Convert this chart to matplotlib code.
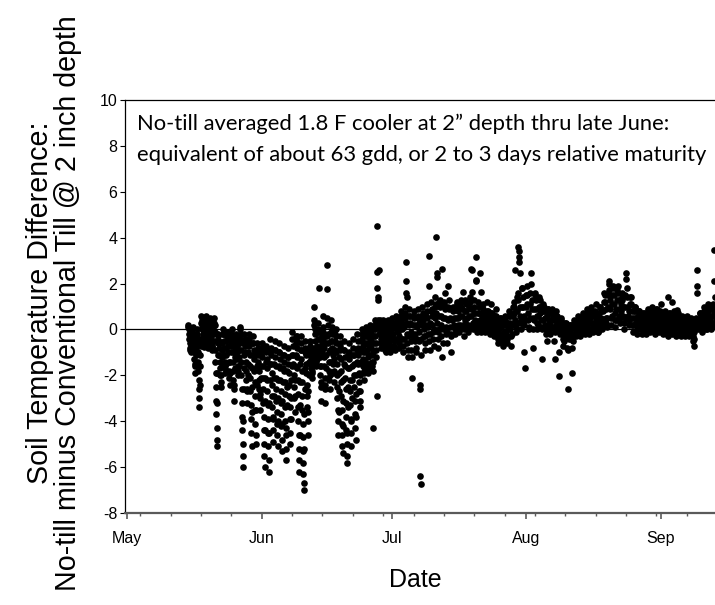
import datetime as dt
import matplotlib
matplotlib.use('Agg')
import matplotlib.pyplot as plt
import matplotlib.dates as mdates

plt.rcParams['font.family'] = ['Liberation Sans', 'DejaVu Sans']
plt.rcParams['axes.unicode_minus'] = False

# Temperature difference readings (F), one list per day, readings spread through the day
may_start = dt.date(2014, 5, 15)
may_vals = [
    [0.1, 0.2, 0.0, -0.2, -0.4, -0.6, -0.8, -0.9, -1.0, -0.8, -0.6, -0.4, -0.2, 0.0],
    [-0.1, 0.1, -0.2, -0.4, -0.7, -1.0, -1.3, -1.6, -1.9, -1.5, -1.1, -0.8, -0.5, -0.3],
    [-0.2, 0.0, -0.3, -0.6, -1.0, -1.4, -1.8, -2.2, -2.6, -3.0, -3.4, -2.4, -1.6, -1.1, -0.7, -0.4],
    [0.3, 0.6, 0.4, 0.2, 0.0, -0.2, -0.4, -0.6, -0.75, -0.5, -0.3, -0.1, 0.1, 0.4],
    [0.4, 0.6, 0.3, 0.1, -0.1, -0.3, -0.5, -0.7, -0.8, -0.6, -0.4, -0.2, 0.1, 0.3],
    [0.5, 0.3, 0.1, -0.1, -0.3, -0.5, -0.7, -0.9, -0.7, -0.5, -0.2, 0.0, 0.2],
    [0.3, 0.5, 0.2, -0.1, -0.5, -0.9, -1.4, -1.9, -2.5, -3.1, -3.7, -4.3, -4.8, -5.1, -3.2, -1.9, -1.1, -0.6, -0.2],
    [-0.3, -0.5, -0.8, -1.1, -1.4, -1.7, -2.0, -2.3, -2.5, -2.0, -1.6, -1.2, -0.9, -0.6],
    [-0.2, 0.0, -0.2, -0.5, -0.8, -1.1, -1.4, -1.7, -1.9, -1.5, -1.1, -0.8, -0.5, -0.3],
    [-0.3, -0.1, -0.4, -0.7, -1.0, -1.4, -1.8, -2.1, -2.4, -1.9, -1.4, -1.0, -0.7, -0.5],
    [-0.2, 0.0, -0.3, -0.6, -1.0, -1.4, -1.8, -2.2, -2.6, -3.1, -2.4, -1.7, -1.2, -0.8, -0.5],
    [-0.3, -0.2, -0.4, -0.7, -1.0, -1.3, -1.6, -1.8, -2.0, -1.6, -1.2, -0.9, -0.6, -0.4],
    [0.0, 0.1, -0.2, -0.5, -0.9, -1.4, -2.0, -2.6, -3.2, -3.8, -4.4, -5.0, -5.5, -6.0, -4.0, -2.6, -1.7, -1.1, -0.6],
    [-0.2, -0.4, -0.7, -1.0, -1.4, -1.8, -2.2, -2.7, -3.2, -2.6, -2.0, -1.5, -1.0, -0.6],
    [-0.2, -0.4, -0.7, -1.1, -1.6, -2.1, -2.7, -3.3, -3.9, -4.5, -5.1, -3.6, -2.5, -1.7, -1.1, -0.6],
    [-0.3, -0.6, -0.9, -1.3, -1.8, -2.3, -2.9, -3.5, -4.1, -4.6, -5.0, -3.5, -2.4, -1.6, -1.0],
    [-0.6, -0.8, -1.1, -1.4, -1.8, -2.2, -2.6, -3.0, -3.5, -2.8, -2.1, -1.6, -1.1, -0.8],
]

jun_start = dt.date(2014, 6, 1)
jun_vals = [
    [-0.6, -0.9, -1.2, -1.6, -2.1, -2.6, -3.2, -3.8, -4.4, -5.0, -5.5, -6.0, -4.4, -3.1, -2.1, -1.4, -0.9],
    [-0.7, -1.0, -1.3, -1.7, -2.2, -2.7, -3.3, -3.9, -4.5, -5.1, -5.7, -6.2, -4.5, -3.2, -2.2, -1.5, -1.0],
    [-0.4, -0.8, -1.1, -1.5, -1.9, -2.4, -2.9, -3.4, -3.9, -4.4, -4.9, -3.8, -2.9, -2.1, -1.5, -0.9],
    [-0.5, -0.9, -1.2, -1.6, -2.1, -2.6, -3.1, -3.6, -4.1, -4.6, -5.1, -4.0, -3.0, -2.2, -1.6, -1.0],
    [-0.6, -1.0, -1.3, -1.7, -2.2, -2.7, -3.2, -3.7, -4.2, -4.8, -5.3, -4.1, -3.1, -2.3, -1.7, -1.1],
    [-0.7, -1.1, -1.4, -1.8, -2.3, -2.8, -3.4, -4.0, -4.6, -5.2, -5.7, -4.3, -3.3, -2.5, -1.8, -1.2],
    [-0.8, -1.2, -1.5, -1.9, -2.4, -2.9, -3.4, -3.9, -4.5, -5.0, -3.9, -3.0, -2.2, -1.6, -1.1],
    [-0.1, -0.4, -0.7, -1.1, -1.5, -2.0, -2.5, -3.0, -3.6, -2.9, -2.2, -1.6, -1.1, -0.6, -0.3],
    [-0.3, -0.5, -0.8, -1.2, -1.7, -2.2, -2.8, -3.4, -4.0, -4.6, -5.2, -5.7, -6.2, -4.6, -3.3, -2.3, -1.5, -0.9],
    [-0.3, -0.6, -0.9, -1.3, -1.8, -2.3, -2.9, -3.5, -4.1, -4.7, -5.3, -5.8, -6.3, -6.7, -7.0, -5.2, -3.7, -2.6, -1.7, -1.0],
    [-0.5, -0.8, -1.1, -1.5, -1.9, -2.4, -2.9, -3.4, -4.0, -4.6, -3.6, -2.7, -2.0, -1.4, -0.9],
    [-0.5, -0.7, -0.9, -1.1, -1.3, -1.5, -1.7, -1.9, -2.1, -1.8, -1.5, -1.2, -1.0, -0.8],
    [0.4, 1.0, 0.2, 0.0, -0.2, -0.5, -0.8, -1.1, -1.4, -1.6, -1.3, -1.0, -0.7, -0.4, -0.1],
    [0.0, 0.3, 1.8, -0.1, -0.4, -0.8, -1.2, -1.6, -2.0, -2.5, -3.1, -2.3, -1.6, -1.0, -0.6, -0.3],
    [0.6, 0.1, -0.1, -0.4, -0.8, -1.2, -1.6, -2.1, -2.6, -3.2, -2.4, -1.7, -1.1, -0.6, -0.3],
    [0.5, 2.8, 1.75, 0.2, -0.2, -0.6, -1.0, -1.4, -1.8, -2.2, -2.6, -2.0, -1.4, -0.9, -0.5, -0.1],
    [0.4, 0.1, -0.2, -0.5, -0.8, -1.1, -1.5, -1.9, -2.3, -1.8, -1.3, -0.9, -0.5, -0.2],
    [0.0, -0.3, -0.6, -1.0, -1.5, -2.0, -2.5, -3.0, -3.5, -4.0, -4.6, -3.6, -2.7, -1.9, -1.2, -0.7],
    [-0.3, -0.6, -0.9, -1.3, -1.8, -2.3, -2.9, -3.5, -4.1, -4.6, -5.1, -5.4, -4.2, -3.1, -2.2, -1.5, -0.9],
    [-0.5, -0.9, -1.2, -1.6, -2.1, -2.6, -3.2, -3.8, -4.4, -5.0, -5.5, -5.8, -4.5, -3.4, -2.5, -1.7, -1.1],
    [-0.6, -1.0, -1.3, -1.7, -2.2, -2.7, -3.3, -3.9, -4.5, -5.1, -4.0, -3.0, -2.2, -1.6, -1.1],
    [-0.4, -0.8, -1.1, -1.5, -2.0, -2.5, -3.1, -3.7, -4.3, -4.8, -3.8, -2.8, -2.0, -1.4, -0.9],
    [-0.2, -0.5, -0.8, -1.1, -1.5, -1.9, -2.3, -2.7, -3.1, -3.4, -2.7, -2.0, -1.4, -0.9, -0.5],
    [0.0, -0.2, -0.4, -0.7, -1.0, -1.3, -1.6, -1.9, -2.2, -1.8, -1.4, -1.0, -0.6, -0.3],
    [0.1, -0.1, -0.3, -0.6, -0.9, -1.2, -1.5, -1.7, -1.9, -1.5, -1.1, -0.7, -0.4, -0.1],
    [0.2, 0.0, -0.2, -0.5, -0.8, -1.1, -1.4, -1.6, -1.8, -4.3, -1.4, -1.0, -0.6, -0.3, 0.0],
    [0.4, 0.2, 0.0, -0.3, -0.6, -0.9, -1.2, -2.9, 4.5, 2.5, 1.8, 1.4, 1.3, 0.4, 0.1, -0.2],
    [0.3, 2.6, 0.4, 0.2, 0.0, -0.2, -0.4, -0.6, -0.8, -0.6, -0.4, -0.1, 0.1, 0.2],
    [0.4, 0.2, 0.0, -0.2, -0.4, -0.6, -0.8, -0.9, -1.0, -0.8, -0.5, -0.3, -0.1, 0.1],
    [0.4, 0.3, 0.1, -0.1, -0.3, -0.5, -0.7, -0.8, -1.0, -0.7, -0.4, -0.2, 0.0, 0.2],
]

jul_start = dt.date(2014, 7, 1)
jul_vals = [
    [0.5, 0.3, 0.1, -0.2, -0.5, -0.7, -0.9, -0.4, 0.0, 0.3],
    [0.6, 0.4, 0.2, -0.1, -0.4, -0.6, -0.8, -0.3, 0.1, 0.4],
    [0.8, 0.6, 0.3, 0.0, -0.4, -0.7, -1.0, -0.4, 0.1, 0.5],
    [1.0, 0.7, 2.95, 2.1, 1.6, 1.4, 0.3, -0.2, -0.6, -0.9, -1.2, -0.3, 0.2, 0.6],
    [0.9, 0.6, 0.3, -0.1, -0.5, -0.9, -1.2, -2.1, -0.3, 0.2, 0.6],
    [0.8, 0.5, 0.2, -0.2, -0.5, -0.8, -1.0, -0.4, 0.1, 0.5],
    [0.9, 0.6, 0.3, -0.1, -0.5, -2.4, -2.6, -6.4, -6.75, -1.1, -0.4, 0.2, 0.6],
    [1.0, 0.7, 0.4, 0.0, -0.3, -0.6, -0.9, -0.3, 0.2, 0.6],
    [1.1, 0.8, 0.5, 0.1, -0.2, 3.2, 1.9, -0.5, -0.9, -0.2, 0.3, 0.8],
    [1.2, 0.9, 0.6, 0.2, -0.1, -0.4, -0.7, 0.0, 0.5, 1.0],
    [1.4, 1.1, 0.7, 4.05, 2.45, 2.3, 0.3, -0.1, -0.4, -0.8, 0.0, 0.6, 1.2],
    [1.3, 1.0, 0.6, 0.2, -0.3, -1.2, 2.65, -0.6, 0.0, 0.5, 1.1],
    [1.2, 1.6, 0.9, 0.5, 0.1, -0.2, -0.6, -0.1, 0.4, 1.0],
    [1.9, 1.3, 0.9, 0.5, 0.1, -0.3, -1.0, -0.2, 0.4, 0.9],
    [1.0, 0.8, 0.5, 0.2, 0.0, -0.2, 0.1, 0.5, 0.9, 1.2],
    [1.1, 0.8, 0.5, 0.2, 0.0, -0.1, 0.2, 0.6, 1.0, 1.3],
    [1.2, 0.9, 0.6, 1.65, 0.2, -0.3, 0.0, 0.4, 0.8, 1.3],
    [1.1, 0.8, 0.5, 0.2, 0.0, -0.1, 0.2, 0.6, 1.0, 1.4],
    [1.2, 0.9, 0.6, 2.65, 2.6, 1.65, 0.2, 0.0, 0.3, 0.7, 1.3],
    [1.0, 0.7, 0.4, 3.15, 2.15, 2.1, 0.1, -0.1, 0.3, 0.7, 1.2],
    [1.0, 0.7, 0.4, 2.45, 1.65, 0.1, -0.1, 0.2, 0.6, 1.1],
    [0.9, 0.7, 0.4, 0.2, 0.0, -0.1, 0.2, 0.5, 0.8, 1.2],
    [0.8, 0.6, 0.3, 0.1, -0.1, -0.2, 0.1, 0.4, 0.7, 1.1],
    [0.7, 0.5, 0.3, 0.0, -0.2, -0.3, 0.0, 0.3, 0.6, 0.9],
    [0.6, 0.4, 0.2, -0.1, -0.4, -0.6, -0.3, 0.0, 0.3, 0.5],
    [0.5, 0.3, 0.1, -0.2, -0.5, -0.7, -0.4, -0.1, 0.2, 0.4],
    [0.6, 0.4, 0.2, -0.1, -0.4, -0.6, -0.3, 0.0, 0.3, 0.6],
    [0.8, 0.6, 0.3, 0.0, -0.3, -0.7, -0.2, 0.2, 0.6, 1.0],
    [1.2, 1.0, 0.7, 2.6, 0.4, 0.1, -0.1, 0.3, 0.8, 1.4],
    [1.6, 1.3, 3.6, 3.4, 3.15, 2.95, 2.45, 1.0, 0.6, 0.3, 0.0, 0.4, 1.0, 1.8],
    [1.8, 1.4, 1.0, -1.0, 0.6, 0.2, -1.7, 0.4, 1.0, 1.5],
]

aug_start = dt.date(2014, 8, 1)
aug_vals = [
    [1.9, 1.5, 1.1, 0.7, 0.4, 0.1, 0.0, 0.5, 1.1, 1.6],
    [2.0, 2.45, 1.3, 0.9, 0.5, -0.8, 0.0, 0.4, 0.9, 1.5],
    [1.6, 1.3, 0.9, 0.6, 0.3, 0.0, 0.2, 0.6, 1.0, 1.4],
    [1.3, 1.0, 0.7, 0.4, 0.1, -1.3, 0.0, 0.4, 0.8, 1.1],
    [1.0, 0.8, 0.5, 0.2, 0.0, -0.2, -0.5, 0.2, 0.6, 0.9],
    [0.9, 0.7, 0.4, 0.2, 0.0, -0.2, 0.1, 0.4, 0.7, 0.9],
    [0.8, 0.6, 0.4, 0.1, -0.5, -1.3, -0.1, 0.2, 0.5, 0.8],
    [0.6, 0.4, 0.2, 0.0, -1.0, -2.05, -0.2, 0.1, 0.3, 0.5],
    [0.4, 0.2, 0.0, -0.2, -0.4, -0.7, -0.5, -0.2, 0.1, 0.3],
    [0.3, 0.1, -0.1, -0.3, -0.8, -2.6, -0.9, -0.4, 0.0, 0.2],
    [0.2, 0.0, -0.2, -0.4, -1.9, -0.8, -0.5, -0.2, 0.1, 0.3],
    [0.4, 0.2, 0.0, -0.2, -0.3, -0.2, 0.0, 0.2, 0.4, 0.6],
    [0.5, 0.3, 0.1, -0.1, -0.3, -0.2, 0.1, 0.3, 0.5, 0.7],
    [0.6, 0.4, 0.2, 0.0, -0.2, -0.1, 0.2, 0.4, 0.6, 0.9],
    [0.7, 0.5, 0.3, 0.0, -0.2, 0.0, 0.3, 0.5, 0.7, 1.0],
    [0.8, 0.6, 0.3, 0.1, -0.1, 0.0, 0.3, 0.6, 0.8, 1.1],
    [0.7, 0.5, 0.3, 0.1, -0.1, -0.1, 0.2, 0.5, 0.7, 1.0],
    [1.0, 0.8, 0.5, 0.3, 0.1, 0.0, 0.4, 0.8, 1.2, 1.6],
    [1.5, 1.2, 0.9, 0.5, 0.3, 0.1, 0.5, 1.0, 1.5, 2.0],
    [2.1, 1.7, 1.3, 0.9, 0.5, 0.2, 0.6, 1.1, 1.5, 1.9],
    [1.8, 1.5, 1.1, 0.7, 0.4, 0.1, 0.4, 0.9, 1.3, 1.7],
    [1.9, 1.6, 1.3, 0.9, 0.6, 0.3, 0.5, 0.8, 1.1, 1.4],
    [1.6, 1.3, 1.0, 0.6, 0.3, 0.0, 0.5, 1.0, 1.5, 2.45],
    [2.2, 1.8, 1.4, 1.0, 0.6, 0.2, 0.4, 0.8, 1.1, 1.4],
    [1.4, 1.1, 0.8, 0.5, 0.2, -0.1, 0.2, 0.5, 0.8, 1.0],
    [1.0, 0.8, 0.5, 0.3, 0.0, -0.2, 0.1, 0.4, 0.6, 0.8],
    [0.8, 0.6, 0.4, 0.2, 0.0, -0.2, 0.1, 0.3, 0.5, 0.7],
    [0.7, 0.5, 0.3, 0.1, -0.1, -0.2, 0.2, 0.4, 0.6, 0.9],
    [0.8, 0.6, 0.4, 0.2, 0.0, -0.1, 0.3, 0.5, 0.7, 1.0],
    [0.9, 0.6, 0.4, 0.2, 0.0, -0.2, 0.2, 0.4, 0.6, 0.9],
    [0.9, 0.7, 0.4, 0.2, 0.0, -0.1, 0.3, 0.6, 0.8, 1.1],
]

sep_start = dt.date(2014, 9, 1)
sep_vals = [
    [0.7, 0.5, 0.3, 0.1, -0.1, -0.2, 0.1, 0.3, 0.5, 0.8],
    [0.6, 0.4, 0.2, 0.0, -0.2, -0.3, 0.1, 1.4, 0.4, 0.7],
    [0.7, 0.5, 0.3, 0.1, -0.1, -0.2, 1.2, 0.3, 0.5, 0.8],
    [0.6, 0.4, 0.2, 0.0, -0.2, -0.3, 0.85, 0.2, 0.4, 0.7],
    [0.5, 0.3, 0.1, -0.1, -0.2, -0.3, 0.0, 0.2, 0.4, 0.6],
    [0.5, 0.3, 0.1, -0.1, -0.2, -0.3, 0.1, 0.2, 0.4, 0.6],
    [0.4, 0.2, 0.1, -0.1, -0.2, -0.3, 0.0, 0.2, 0.3, 0.5],
    [0.4, 0.2, -0.1, -0.3, -0.5, -0.7, -0.4, -0.1, 0.1, 0.4],
    [0.5, 0.3, 2.6, 1.9, 1.6, 0.1, 0.0, 0.2, 0.4, 0.7],
    [0.7, 0.5, 0.3, 0.1, 0.0, -0.1, 0.2, 0.5, 0.7, 1.0],
    [0.8, 0.6, 0.4, 0.2, 0.0, 0.0, 0.3, 0.6, 0.8, 1.1],
    [0.9, 0.6, 0.4, 0.2, 0.1, 0.0, 0.3, 0.6, 0.9, 1.1],
    [1.0, 0.7, 3.45, 2.1, 1.4, 0.3, 0.1, 0.4, 0.7, 1.0],
    [1.1, 0.8, 0.6, 0.4, 0.2, 0.1, 0.4, 0.7, 1.0, 1.3],
]

note_lines = ['No-till averaged 1.8 F cooler at 2\u201d depth thru late June:',
              'equivalent of about 63 gdd, or 2 to 3 days relative maturity']


def day_points(start, days):
    # readings of each day are evenly spaced over that day
    times, vals = [], []
    for k, day in enumerate(days):
        base = dt.datetime.combine(start, dt.time()) + dt.timedelta(days=k)
        for i, val in enumerate(day):
            times.append(base + dt.timedelta(days=(i + 0.5) / len(day)))
            vals.append(val)
    return times, vals


fig = plt.figure(figsize=(7.15, 6.05), dpi=100)
ax = fig.add_axes([125 / 715, 92 / 605, 666 / 715, 413 / 605])

ax.axhline(0, color='black', lw=0.9, zorder=1)
for start, days in [(may_start, may_vals), (jun_start, jun_vals), (jul_start, jul_vals),
                    (aug_start, aug_vals), (sep_start, sep_vals)]:
    t, v = day_points(start, days)
    ax.plot(t, v, 'o', color='black', ms=4.8, mew=0, zorder=2)

ax.set_xlim(dt.datetime(2014, 4, 30, 12), dt.datetime(2014, 10, 1))
ax.set_ylim(-8, 10)
ax.set_yticks(range(-8, 11, 2))
ax.xaxis.set_major_locator(mdates.MonthLocator(bymonth=[5, 6, 7, 8, 9]))
ax.xaxis.set_major_formatter(mdates.DateFormatter('%b'))
ax.xaxis.set_minor_locator(mdates.WeekdayLocator(byweekday=mdates.SU))

ax.spines['right'].set_visible(False)
ax.spines['top'].set_linewidth(0.9)
ax.spines['left'].set_linewidth(0.9)
ax.spines['bottom'].set_color('#5a5a5a')
ax.spines['bottom'].set_linewidth(1.6)
ax.tick_params(axis='y', direction='out', length=3.6, width=0.8, pad=2, labelsize=11.5)
ax.tick_params(axis='x', which='major', direction='out', length=4, width=1.2,
               color='#5a5a5a', pad=9, labelsize=11.5)
ax.tick_params(axis='x', which='minor', direction='out', length=2.2, width=1.0,
               color='#5a5a5a')

fig.text(54 / 715, 1 - 303 / 605,
         'Soil Temperature Difference:\nNo-till minus Conventional Till @ 2 inch depth',
         rotation=90, ha='center', va='center', multialignment='center',
         fontsize=20.6, linespacing=1.0)
fig.text(415 / 715, 1 - 580 / 605, 'Date', ha='center', va='center', fontsize=18)

fig.text(137 / 715, 1 - 124 / 605, note_lines[0], ha='left', va='center',
         fontsize=15.8, family=['Lato', 'DejaVu Sans'])
fig.text(137 / 715, 1 - 155 / 605, note_lines[1], ha='left', va='center',
         fontsize=15.8, family=['Lato', 'DejaVu Sans'])

fig.savefig('out.png', dpi=100)
